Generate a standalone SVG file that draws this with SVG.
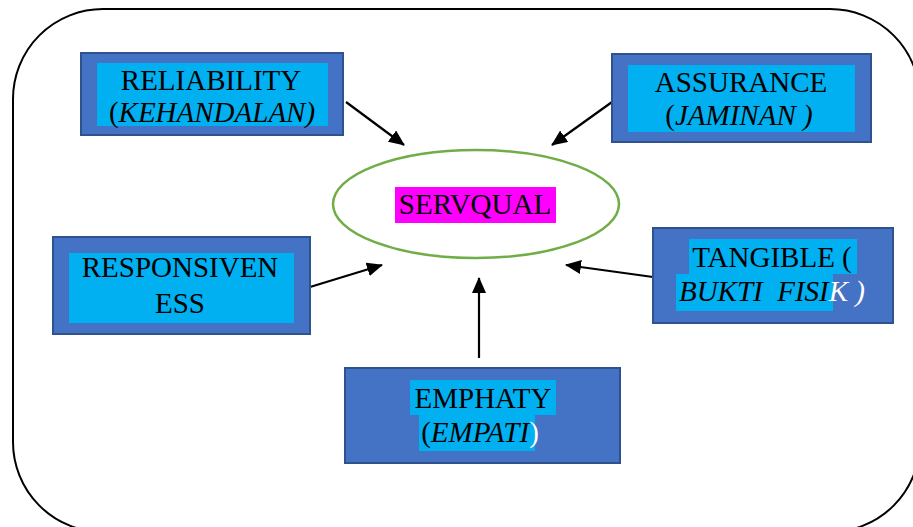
<svg xmlns="http://www.w3.org/2000/svg" width="913" height="527" viewBox="0 0 913 527">
<defs>
<style>
.box{fill:#4472C4;stroke:#2F528F;stroke-width:2}
.hl{fill:#00B0F0}
.t{font-family:"Liberation Serif","Times New Roman",serif;font-size:29px;fill:#000;text-anchor:middle}
.i{font-style:italic}
.w{fill:#fff}
.edge{stroke:#000;stroke-width:2.2;fill:none;marker-end:url(#ah)}
</style>
<marker id="ah" viewBox="0 0 16 14" refX="15" refY="7" markerWidth="16" markerHeight="14" orient="auto" markerUnits="userSpaceOnUse">
<path d="M0,0 L16,7 L0,14 z" fill="#000"/>
</marker>
</defs>
<rect width="913" height="527" fill="#fff"/>
<rect id="frame" x="13" y="9" width="907" height="523" rx="90" ry="90" fill="none" stroke="#000" stroke-width="2"/>

<g id="connectors">
<line class="edge" x1="346" y1="102" x2="404" y2="145"/>
<line class="edge" x1="612" y1="102" x2="552" y2="145"/>
<line class="edge" x1="310" y1="287" x2="382" y2="265"/>
<line class="edge" x1="653" y1="277" x2="566" y2="265"/>
<line class="edge" x1="479" y1="358" x2="479" y2="278"/>
</g>

<g id="servqual">
<ellipse cx="476" cy="204" rx="143" ry="54" fill="#fff" stroke="#70AD47" stroke-width="2.5"/>
<rect x="395" y="187" width="161" height="36" fill="#FF00FF"/>
<text class="t" x="475" y="214">SERVQUAL</text>
</g>

<g id="reliability">
<rect class="box" x="81" y="53" width="262" height="82"/>
<rect class="hl" x="97" y="63" width="231" height="63"/>
<text class="t" x="211" y="90">RELIABILITY</text>
<text class="t" x="212" y="122">(<tspan class="i">KEHANDALAN)</tspan></text>
</g>

<g id="assurance">
<rect class="box" x="612" y="54" width="259" height="88"/>
<rect class="hl" x="628" y="65" width="227" height="67"/>
<text class="t" x="741" y="92">ASSURANCE</text>
<text class="t" x="739" y="125">(<tspan class="i">JAMINAN )</tspan></text>
</g>

<g id="responsiveness">
<rect class="box" x="53" y="237" width="257" height="97"/>
<rect class="hl" x="69" y="253" width="225" height="70"/>
<text class="t" x="180" y="277">RESPONSIVEN</text>
<text class="t" x="180" y="313">ESS</text>
</g>

<g id="tangible">
<rect class="box" x="653" y="228" width="240" height="95"/>
<rect class="hl" x="689" y="239" width="168" height="35"/>
<rect class="hl" x="676" y="274" width="157" height="37"/>
<text class="t" x="772" y="267">TANGIBLE (</text>
<text class="t i" x="772" y="301" style="white-space:pre">BUKTI  FISI<tspan class="w">K )</tspan></text>
</g>

<g id="emphaty">
<rect class="box" x="345" y="368" width="275" height="95"/>
<rect class="hl" x="410" y="380" width="146" height="35"/>
<rect class="hl" x="419" y="415" width="116" height="36"/>
<text class="t" x="483" y="408">EMPHATY</text>
<text class="t" x="480" y="442">(<tspan class="i">EMPATI</tspan><tspan class="w">)</tspan></text>
</g>
</svg>
